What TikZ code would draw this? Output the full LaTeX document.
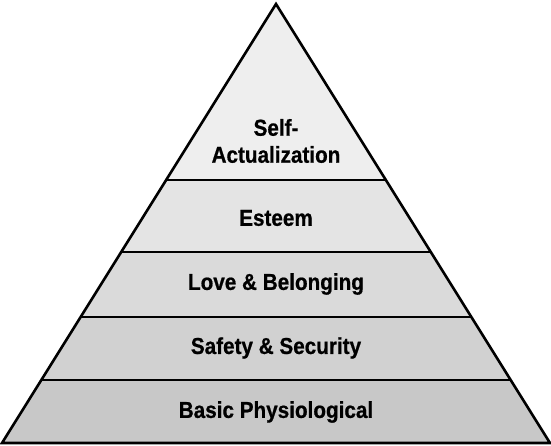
\documentclass[tikz,border=0pt]{standalone}
\usepackage{fontspec}
\setmainfont{Liberation Sans}
\newfontfamily\heavyfont{Liberation Sans}[FakeStretch=0.9, BoldFeatures={FakeBold=0.7, FakeStretch=0.9}]
\usetikzlibrary{calc}
\definecolor{lay1}{HTML}{EEEEEE}
\definecolor{lay2}{HTML}{E4E4E4}
\definecolor{lay3}{HTML}{DADADA}
\definecolor{lay4}{HTML}{D1D1D1}
\definecolor{lay5}{HTML}{C8C8C8}
\tikzset{
  layertext/.style={font=\heavyfont\fontsize{23}{27}\selectfont\bfseries, align=center, inner sep=0pt, text=black},
  outline/.style={draw=black, line width=2.6pt, line join=miter},
  divider/.style={draw=black, line width=2.4pt}
}
\begin{document}
\begin{tikzpicture}[x=1pt,y=-1pt]
\useasboundingbox (0,0) rectangle (551,445);
\coordinate (A) at (276,4);
\coordinate (L) at (2,443);
\coordinate (R) at (550,443);
% boundary coordinates
\coordinate (L1) at ($(L)!0.1435!(A)$);
\coordinate (R1) at ($(R)!0.1435!(A)$);
\coordinate (L2) at ($(L)!0.2870!(A)$);
\coordinate (R2) at ($(R)!0.2870!(A)$);
\coordinate (L3) at ($(L)!0.4351!(A)$);
\coordinate (R3) at ($(R)!0.4351!(A)$);
\coordinate (L4) at ($(L)!0.5991!(A)$);
\coordinate (R4) at ($(R)!0.5991!(A)$);
% fills
\fill[lay5] (L) -- (R) -- (R1) -- (L1) -- cycle;
\fill[lay4] (L1) -- (R1) -- (R2) -- (L2) -- cycle;
\fill[lay3] (L2) -- (R2) -- (R3) -- (L3) -- cycle;
\fill[lay2] (L3) -- (R3) -- (R4) -- (L4) -- cycle;
\fill[lay1] (L4) -- (R4) -- (A) -- cycle;
% dividers
\draw[divider] (L1) -- (R1);
\draw[divider] (L2) -- (R2);
\draw[divider] (L3) -- (R3);
\draw[divider] (L4) -- (R4);
% outline
\draw[outline] (L) -- (R) -- (A) -- cycle;
% labels
\node[layertext] (self) at (276,141) {Self-\\Actualization};
\node[layertext] (esteem) at (276,218) {Esteem};
\node[layertext] (love) at (276,284) {Love \& Belonging};
\node[layertext] (safety) at (276,348) {Safety \& Security};
\node[layertext] (basic) at (276,412) {Basic Physiological};
\end{tikzpicture}
\end{document}
